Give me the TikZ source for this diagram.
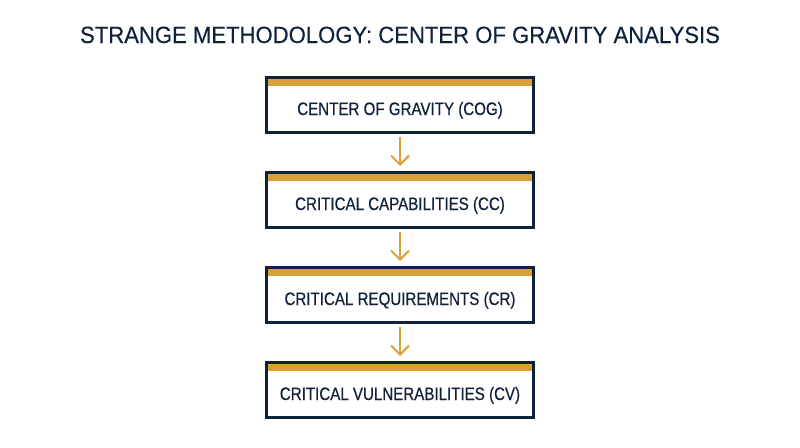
\documentclass[tikz,border=0pt]{standalone}
\usepackage{fontspec}
\setmainfont{Liberation Sans}
\newfontfamily\titlefont[FakeStretch=0.94, FakeBold=0.3]{Liberation Sans}
\newfontfamily\boxfont[FakeStretch=0.84, FakeBold=0.5]{Liberation Sans}
\usetikzlibrary{positioning,arrows.meta}

\definecolor{cognavy}{RGB}{16,33,58}
\definecolor{coggold}{RGB}{218,160,58}

\tikzset{
	stagebox/.style={draw=cognavy, line width=3pt, fill=white,
		minimum width=267pt, minimum height=55pt, inner sep=0pt,
		text height=20pt, text depth=0pt, text=cognavy,
		font=\boxfont\fontsize{18}{20}\selectfont,
		path picture={\fill[coggold] ([yshift=-1pt]path picture bounding box.north west) rectangle ([yshift=-8pt]path picture bounding box.north east);}},
	stagearrow/.style={draw=coggold, line width=2pt, -{Straight Barb[length=9pt,width=18pt]},
		shorten <=3pt, shorten >=5pt}
}

\begin{document}
\begin{tikzpicture}[x=1pt,y=1pt]
	\useasboundingbox (0,0) rectangle (800,-447);
	
	\node[text=cognavy, font=\titlefont\fontsize{23.5}{26}\selectfont, anchor=base] (title) at (400,-43) {STRANGE METHODOLOGY: CENTER OF GRAVITY ANALYSIS};
	
	\node[stagebox] (cog) at (400,-105) {CENTER OF GRAVITY (COG)};
	\node[stagebox, below=37pt of cog] (cc) {CRITICAL CAPABILITIES (CC)};
	\node[stagebox, below=37pt of cc] (cr) {CRITICAL REQUIREMENTS (CR)};
	\node[stagebox, below=37pt of cr] (cv) {CRITICAL VULNERABILITIES (CV)};
	
	\draw[stagearrow] (cog.south) -- (cc.north);
	\draw[stagearrow] (cc.south) -- (cr.north);
	\draw[stagearrow] (cr.south) -- (cv.north);
	
\end{tikzpicture}
\end{document}
